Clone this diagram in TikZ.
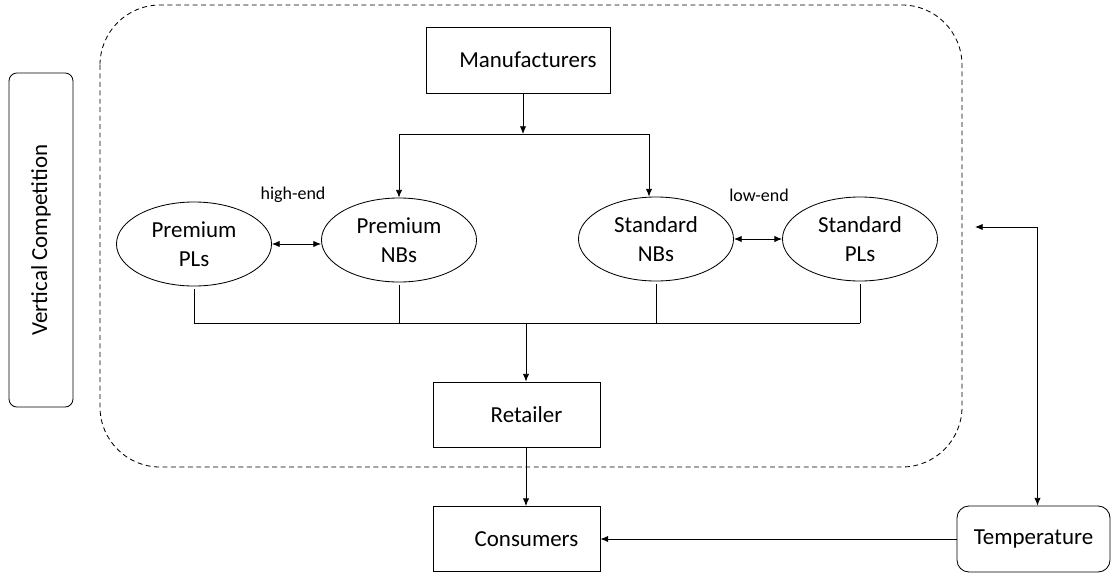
\documentclass[tikz,border=0pt]{standalone}
\usepackage{fontspec}
\setmainfont{Carlito}
\usetikzlibrary{shapes.geometric,arrows.meta}

\tikzset{
  box/.style={draw,rectangle,minimum width=4.175cm,minimum height=1.625cm,inner sep=0pt},
  roundbox/.style={box,rounded corners=0.3cm},
  brand/.style={draw,ellipse,minimum width=3.875cm,minimum height=2.1cm,align=center,inner sep=0pt},
  tag/.style={font=\fontsize{12.8}{15}\selectfont},
}
\newcommand{\pad}{\hspace*{0.5cm}}

\begin{document}
\begin{tikzpicture}[x=0.025cm,y=-0.025cm,line width=0.6pt,font=\fontsize{16.3}{20.6}\selectfont,>={Latex[length=5.5pt,width=4.5pt]}]
        \useasboundingbox (0,0) rectangle (1112,573);
        % Market boundary
        \draw[dash pattern=on 3.5pt off 2.5pt,rounded corners=1.5cm] (100,5) rectangle (962,467);
        % Side label
        \node[roundbox,rotate=90,minimum width=8.35cm,minimum height=1.6cm,rounded corners=0.2cm] (vc) at (41,240) {Vertical Competition};
        % Boxes
        \node[box,minimum width=4.6cm,minimum height=1.65cm] (manu) at (518,60) {\pad Manufacturers};
        \node[box] (retail) at (516.5,414.5) {\pad Retailer};
        \node[box] (cons) at (516.5,539) {\pad Consumers};
        \node[roundbox,minimum width=3.825cm,minimum height=1.65cm] (temp) at (1033.5,539) {Temperature};
        % Brands
        \node[brand] (ppl) at (194,244) {Premium\\PLs};
        \node[brand] (pnb) at (399,240) {Premium\\NBs};
        \node[brand] (snb) at (656,239) {Standard\\NBs};
        \node[brand] (spl) at (860,239) {Standard\\PLs};
        \node[tag] (high) at (293,195) {high-end};
        \node[tag] (low) at (759,195) {low-end};
        % Manufacturers to national brands
        \coordinate (split) at (523,134);
        \coordinate (snbin) at ([xshift=-0.175cm]snb.north);
        \draw[->] (manu.south -| split) -- (split);
        \draw (pnb.north |- split) -- (snbin |- split);
        \draw[->] (pnb.north |- split) -- (pnb.north);
        \draw[->] (snbin |- split) -- (snbin);
        % Competition within segments
        \draw[<->] (ppl.east) -- (ppl.east -| pnb.west);
        \draw[<->] (snb.east) -- (snb.east -| spl.west);
        % Brands to retailer
        \coordinate (join) at (526,323);
        \foreach \b in {ppl,pnb,snb,spl} {
            \draw ([yshift=-2pt]\b.south) -- (\b.south |- join);
        }
        \draw (ppl.south |- join) -- (spl.south |- join);
        \draw[->] (join) -- (retail.north -| join);
        \draw[->] (retail.south -| join) -- (cons.north -| join);
        % Temperature
        \coordinate (tin) at (975,227);
        \draw[<->] (tin) -| ([xshift=0.1cm]temp.north);
        \draw[->] (temp.west) -- (cons.east);
\end{tikzpicture}
\end{document}
